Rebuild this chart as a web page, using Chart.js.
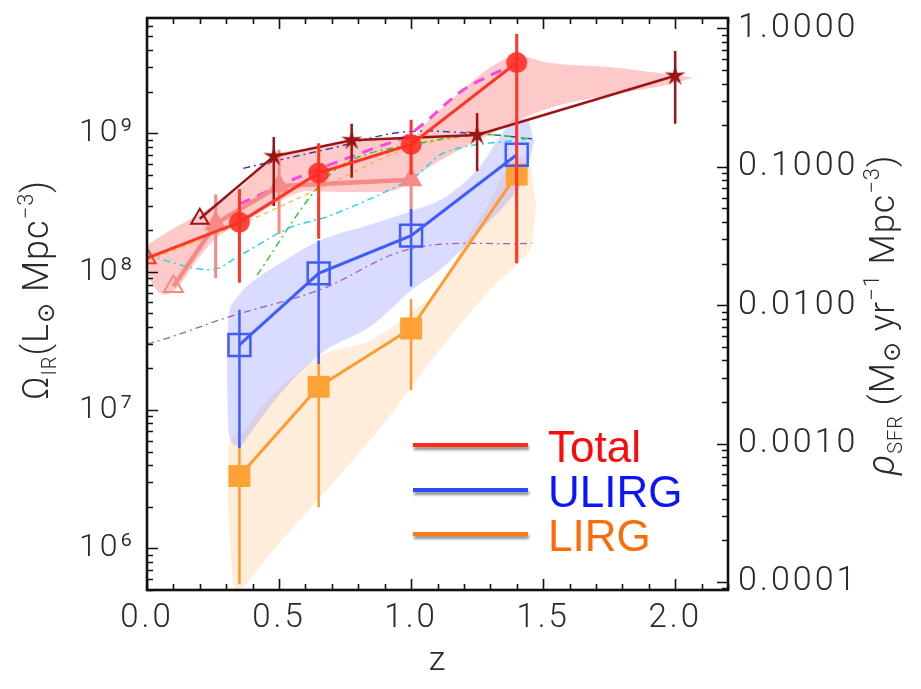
<!DOCTYPE html>
<html><head><meta charset="utf-8">
<script src="https://cdn.jsdelivr.net/npm/chart.js@4.4.1/dist/chart.umd.min.js"></script>
<style>html,body{margin:0;padding:0;background:#fff;overflow:hidden}#wrap{position:relative;width:921px;height:689px}</style>
</head><body><div id="wrap"><canvas id="c"></canvas></div>
<script>
// ---------------- data ----------------
const Z_TICKS = [0, 0.5, 1.0, 1.5, 2.0];
const LIR_TICKS = [1e6, 1e7, 1e8, 1e9];
const SFR_TICKS = [1e-4, 1e-3, 1e-2, 1e-1, 1];
const Z_MIN = 0, Z_MAX = 2.2;
const LIR_MIN = 5e5, LIR_MAX = 6.8e9;
const SFR_PER_LIR = 1.75e-10;

// Total (filled red circles)
const TOTAL_Z  = [0.35, 0.65, 1.0, 1.4];
const TOTAL_V  = [2.27e8, 5.16e8, 8.3e8, 3.24e9];
const TOTAL_LO = [8.3e7, 1.73e8, 5.0e8, 1.15e8];
const TOTAL_HI = [3.95e8, 8.46e8, 1.25e9, 5.2e9];
// local value (open red triangle at z=0)
const LOCAL_Z = [0.0];
const LOCAL_V = [1.25e8];

// ULIRG (open blue squares)
const ULIRG_Z  = [0.35, 0.65, 1.0, 1.4];
const ULIRG_V  = [2.95e7, 9.7e7, 1.82e8, 6.99e8];
const ULIRG_LO = [5.3e6, 2.15e7, 7.8e7, 2.75e8];
const ULIRG_HI = [5.3e7, 1.68e8, 2.83e8, 1.15e9];

// LIRG (filled orange squares)
const LIRG_Z  = [0.35, 0.65, 1.0, 1.4];
const LIRG_V  = [3.33e6, 1.47e7, 3.88e7, 5.02e8];
const LIRG_LO = [5.5e5, 1.98e6, 1.39e7, 1.15e8];
const LIRG_HI = [5.8e6, 2.68e7, 6.3e7, 8.0e8];

// dark red stars (+ open triangle start)
const STAR_OPEN_Z = [0.2];
const STAR_OPEN_V = [2.41e8];
const STAR_Z  = [0.48, 0.775, 1.25, 2.0];
const STAR_V  = [6.8e8, 8.9e8, 9.7e8, 2.6e9];
const STAR_LO = [2.98e8, 4.76e8, 5.3e8, 1.17e9];
const STAR_HI = [9.4e8, 1.17e9, 1.4e9, 3.93e9];

// light red triangles (+ open triangle start)
const TRI_OPEN_Z = [0.1];
const TRI_OPEN_V = [7.8e7];
const TRI_Z  = [0.26, 0.5, 1.0];
const TRI_V  = [2.22e8, 4.15e8, 4.6e8];
const TRI_LO = [9.0e7, 1.87e8, 1.93e8];
const TRI_HI = [3.6e8, 7.6e8, 9.0e8];

// shaded bands (upper / lower edges)
const RED_BAND_UP_Z = [0, 0.087, 0.2, 0.352, 0.477, 0.655, 0.777, 1.004, 1.072, 1.197, 1.3, 1.402, 1.515, 1.765, 1.955, 2.068];
const RED_BAND_UP_V = [1.55e8, 1.98e8, 2.62e8, 4.0e8, 6.8e8, 7.87e8, 9.0e8, 9.4e8, 1.27e9, 2.08e9, 2.99e9, 3.64e9, 3.24e9, 2.99e9, 2.7e9, 2.53e9];
const RED_BAND_LO_Z = [0, 0.03, 0.068, 0.114, 0.174, 0.265, 0.39, 0.504, 0.606, 0.731, 0.856, 0.958, 1.045, 1.136, 1.261, 1.386, 1.515, 1.765, 1.992, 2.068];
const RED_BAND_LO_V = [9.9e7, 7.6e7, 6.8e7, 7.6e7, 1.11e8, 1.76e8, 2.41e8, 3.24e8, 3.82e8, 3.76e8, 3.76e8, 4.0e8, 5.31e8, 6.8e8, 9.0e8, 1.19e9, 1.5e9, 1.91e9, 2.29e9, 2.53e9];

const BLUE_BAND_UP_Z = [0.303, 0.307, 0.326, 0.371, 0.504, 0.655, 0.856, 1.004, 1.136, 1.261, 1.337, 1.394, 1.439, 1.466];
const BLUE_BAND_UP_V = [1.82e7, 4.15e7, 5.96e7, 7.6e7, 1.15e8, 1.68e8, 2.22e8, 2.75e8, 3.52e8, 5.77e8, 9.4e8, 1.27e9, 1.27e9, 8.7e8];
const BLUE_BAND_LO_Z = [0.303, 0.307, 0.322, 0.352, 0.39, 0.504, 0.655, 0.856, 1.004, 1.11, 1.261, 1.375, 1.432, 1.466];
const BLUE_BAND_LO_V = [1.82e7, 8.0e6, 5.8e6, 5.5e6, 6.8e6, 1.31e7, 2.53e7, 4.15e7, 7.4e7, 1.03e8, 1.98e8, 3.35e8, 4.89e8, 8.7e8];

const ORANGE_BAND_UP_Z = [0.307, 0.308, 0.352, 0.428, 0.542, 0.655, 0.856, 1.004, 1.11, 1.197, 1.3, 1.364, 1.413, 1.451, 1.473];
const ORANGE_BAND_UP_V = [2.15e6, 5.3e6, 6.8e6, 1.03e7, 1.68e7, 2.45e7, 3.24e7, 5.14e7, 7.6e7, 1.55e8, 3.24e8, 5.57e8, 6.8e8, 5.77e8, 2.99e8];
const ORANGE_BAND_LO_Z = [0.307, 0.322, 0.337, 0.428, 0.504, 0.655, 0.883, 1.11, 1.3, 1.413, 1.458, 1.473];
const ORANGE_BAND_LO_V = [2.15e6, 6.8e5, 4.9e5, 7.4e5, 1.11e6, 2.33e6, 7.4e6, 2.75e7, 7.4e7, 1.21e8, 1.68e8, 2.99e8];

// thin model curves
const MODEL_MAGENTA_Z = [0.352, 0.606, 0.856, 0.996, 1.197, 1.364];
const MODEL_MAGENTA_V = [3.08e8, 5.1e8, 7.74e8, 9.9e8, 2.05e9, 2.99e9];
const MODEL_NAVY_Z = [0.364, 0.477, 0.693, 0.97, 1.261, 1.458];
const MODEL_NAVY_V = [5.57e8, 6.25e8, 7.74e8, 1.02e9, 9.9e8, 9.1e8];
const MODEL_CYAN_Z = [0, 0.239, 0.352, 0.542, 0.693, 1.004, 1.136, 1.439];
const MODEL_CYAN_V = [1.31e8, 1.03e8, 1.31e8, 2.08e8, 2.53e8, 4.73e8, 7.38e8, 9.1e8];
const MODEL_GREEN_Z = [0.417, 0.644, 0.78, 1.004, 1.261, 1.458];
const MODEL_GREEN_V = [9.44e7, 4.0e8, 6.47e8, 8.28e8, 9.75e8, 9.1e8];
const MODEL_PURPLE_Z = [0, 0.087, 0.314, 0.655, 1.004, 1.458];
const MODEL_PURPLE_V = [2.99e7, 3.35e7, 4.73e7, 7.4e7, 1.47e8, 1.6e8];
const MODEL_ORANGE_Z = [0, 0.352, 0.655, 1.004, 1.261];
const MODEL_ORANGE_V = [1.2e8, 2.2e8, 4.0e8, 8.0e8, 9.7e8];

const LEGEND_LABELS = ['Total', 'ULIRG', 'LIRG'];

// ---------------- helpers ----------------
const pts = (zs, vs) => zs.map((z, i) => ({x: z, y: vs[i]}));
const errPts = (zs, lo, hi) => { const d = []; zs.forEach((z, i) => d.push({x: z, y: lo[i]}, {x: z, y: hi[i]}, {x: z, y: null})); return d; };

function makeStar(color, R, r) {
  const s = Math.ceil(2 * R + 4);
  const c = document.createElement('canvas'); c.width = s; c.height = s;
  const g = c.getContext('2d'); g.fillStyle = color; g.beginPath();
  for (let i = 0; i < 10; i++) {
    const a = -Math.PI / 2 + i * Math.PI / 5, rr = i % 2 ? r : R;
    g.lineTo(s / 2 + rr * Math.cos(a), s / 2 + rr * Math.sin(a));
  }
  g.closePath(); g.fill(); return c;
}
const STAR_IMG = makeStar('#9c1414', 11, 3.6);

const C_RED = '#ff3526', C_DRED = '#9c1414', C_PINK = '#f58a86', C_BLUE = '#3f5cff', C_ORANGE = '#ff9a2e';

const ds = [];
function add(o) { ds.push(o); return ds.length - 1; }
function band(upZ, upV, loZ, loV, color, order) {
  const lo = add({data: pts(loZ, loV), borderWidth: 0, pointRadius: 0, fill: false, cubicInterpolationMode: 'monotone', order});
  add({data: pts(upZ, upV), borderWidth: 0, pointRadius: 0, backgroundColor: color, fill: {target: lo, above: color, below: color}, cubicInterpolationMode: 'monotone', order});
}
function model(zs, vs, color, width, dash, order) {
  add({data: pts(zs, vs), borderColor: color, borderWidth: width, borderDash: dash, pointRadius: 0, fill: false, tension: 0.35, order});
}
function err(zs, lo, hi, color, width, order) {
  add({data: errPts(zs, lo, hi), borderColor: color, borderWidth: width, pointRadius: 0, fill: false, spanGaps: false, order});
}

band(ORANGE_BAND_UP_Z, ORANGE_BAND_UP_V, ORANGE_BAND_LO_Z, ORANGE_BAND_LO_V, 'rgba(255,186,120,0.26)', 100);
band(BLUE_BAND_UP_Z, BLUE_BAND_UP_V, BLUE_BAND_LO_Z, BLUE_BAND_LO_V, 'rgba(120,130,255,0.28)', 95);
band(RED_BAND_UP_Z, RED_BAND_UP_V, RED_BAND_LO_Z, RED_BAND_LO_V, 'rgba(250,105,105,0.36)', 90);

model(MODEL_PURPLE_Z, MODEL_PURPLE_V, '#a060c0', 1.3, [7, 4, 2, 4], 70);
model(MODEL_CYAN_Z, MODEL_CYAN_V, '#20d8e8', 1.5, [7, 4, 2, 4], 70);
model(MODEL_GREEN_Z, MODEL_GREEN_V, '#22cc22', 1.4, [7, 4, 2, 4], 70);
model(MODEL_NAVY_Z, MODEL_NAVY_V, '#3040a0', 1.4, [7, 4, 2, 4], 70);
model(MODEL_ORANGE_Z, MODEL_ORANGE_V, '#ffb030', 1.2, [5, 4], 70);
model(MODEL_MAGENTA_Z, MODEL_MAGENTA_V, '#ff44e0', 3, [11, 8], 65);

// light red triangles
err(TRI_Z, TRI_LO, TRI_HI, C_PINK, 3, 50);
add({data: pts(TRI_OPEN_Z.concat(TRI_Z), TRI_OPEN_V.concat(TRI_V)), borderColor: C_PINK, borderWidth: 4.5,
  pointStyle: 'triangle', pointRadius: 11, pointBackgroundColor: ['rgba(255,255,255,0)', C_PINK, C_PINK, C_PINK],
  pointBorderColor: C_PINK, pointBorderWidth: 2, fill: false, order: 48});

// dark red stars
err(STAR_Z, STAR_LO, STAR_HI, C_DRED, 2.5, 45);
add({data: pts(STAR_OPEN_Z.concat(STAR_Z), STAR_OPEN_V.concat(STAR_V)), borderColor: C_DRED, borderWidth: 2.5,
  pointStyle: ['triangle', STAR_IMG, STAR_IMG, STAR_IMG, STAR_IMG], pointRadius: 10, pointBackgroundColor: 'rgba(255,255,255,0)',
  pointBorderColor: C_DRED, pointBorderWidth: 2, fill: false, order: 44});

// LIRG
err(LIRG_Z, LIRG_LO, LIRG_HI, C_ORANGE, 2.5, 40);
add({data: pts(LIRG_Z, LIRG_V), borderColor: C_ORANGE, borderWidth: 3, pointStyle: 'rect', pointRadius: 15.5,
  pointBackgroundColor: '#ffa236', pointBorderColor: '#ffa236', pointBorderWidth: 0, fill: false, order: 38});

// ULIRG
err(ULIRG_Z, ULIRG_LO, ULIRG_HI, C_BLUE, 2.5, 36);
add({data: pts(ULIRG_Z, ULIRG_V), borderColor: C_BLUE, borderWidth: 3, pointStyle: 'rect', pointRadius: 15.5,
  pointBackgroundColor: 'rgba(255,255,255,0)', pointBorderColor: C_BLUE, pointBorderWidth: 2.5, fill: false, order: 34});

// Total
err(TOTAL_Z, TOTAL_LO, TOTAL_HI, C_RED, 3, 32);
add({data: pts(LOCAL_Z.concat(TOTAL_Z), LOCAL_V.concat(TOTAL_V)), borderColor: C_RED, borderWidth: 3,
  pointStyle: ['triangle', 'circle', 'circle', 'circle', 'circle'], pointRadius: [10, 10.5, 10.5, 10.5, 10.5],
  pointBackgroundColor: ['rgba(255,255,255,0)', 'rgba(255,45,35,0.88)', 'rgba(255,45,35,0.88)', 'rgba(255,45,35,0.88)', 'rgba(255,45,35,0.88)'],
  pointBorderColor: ['#ff3526', 'rgba(255,45,35,0)', 'rgba(255,45,35,0)', 'rgba(255,45,35,0)', 'rgba(255,45,35,0)'], pointBorderWidth: 2, fill: false, order: 30});

// ---------------- plugins ----------------
const TICK_FONT = 'Roboto';
const SUP = {'0':'⁰','1':'¹','2':'²','3':'³','4':'⁴','5':'⁵','6':'⁶','7':'⁷','8':'⁸','9':'⁹','-':'⁻'};

function drawRich(ctx, parts, cx, cy, rot) {
  ctx.save(); ctx.translate(cx, cy); ctx.rotate(rot); ctx.fillStyle = '#2a2a2a'; ctx.textBaseline = 'alphabetic';
  let total = 0;
  parts.forEach(p => { ctx.font = (p.st || '') + ' ' + (p.w || 300) + ' ' + p.s + 'px ' + (p.f || TICK_FONT); p.wd = ctx.measureText(p.t).width; total += p.wd; });
  let x = -total / 2;
  parts.forEach(p => { ctx.font = (p.st || '') + ' ' + (p.w || 300) + ' ' + p.s + 'px ' + (p.f || TICK_FONT); ctx.fillText(p.t, x, p.dy || 0); x += p.wd; });
  ctx.restore();
}

const framePlugin = {
  id: 'frame',
  beforeDraw(chart) { chart.ctx.letterSpacing = '3px'; },
  afterDraw(chart) {
    const {ctx, chartArea: a, scales} = chart;
    ctx.letterSpacing = '0px';
    const x = scales.x, y = scales.y, y2 = scales.y2;
    ctx.save();
    ctx.strokeStyle = '#111'; ctx.lineWidth = 1.6; ctx.beginPath();
    for (let i = 0; i <= Math.round(Z_MAX * 10); i++) {
      const v = i / 10, px = Math.round(x.getPixelForValue(v)) + 0.5, L = (i % 5 === 0) ? 11 : 6;
      ctx.moveTo(px, a.bottom); ctx.lineTo(px, a.bottom - L);
      ctx.moveTo(px, a.top); ctx.lineTo(px, a.top + L);
    }
    const logTicks = (sc, side) => {
      const e0 = Math.floor(Math.log10(sc.min)), e1 = Math.ceil(Math.log10(sc.max));
      for (let e = e0; e <= e1; e++) for (let m = 1; m <= 9; m++) {
        const v = m * Math.pow(10, e); if (v < sc.min || v > sc.max) continue;
        const py = Math.round(sc.getPixelForValue(v)) + 0.5, L = m === 1 ? 11 : 6;
        if (side === 'l') { ctx.moveTo(a.left, py); ctx.lineTo(a.left + L, py); }
        else { ctx.moveTo(a.right, py); ctx.lineTo(a.right - L, py); }
      }
    };
    logTicks(y, 'l'); logTicks(y2, 'r');
    ctx.stroke();
    ctx.lineWidth = 2.6; ctx.strokeRect(a.left, a.top, a.right - a.left, a.bottom - a.top);
    ctx.restore();

    // axis titles
    ctx.letterSpacing = '1px';
    drawRich(ctx, [{t: 'z', s: 34}], (a.left + a.right) / 2, 670, 0);
    drawRich(ctx, [{t: 'Ω', s: 36}, {t: 'IR', s: 20, dy: 8}, {t: '(L', s: 36}, {t: '⊙', s: 24, dy: 6, f: 'DejaVu Sans', w: 400}, {t: ' Mpc', s: 36}, {t: '−3', s: 22, dy: -15}, {t: ')', s: 36}], 48, 290, -Math.PI / 2);
    drawRich(ctx, [{t: 'ρ', s: 38, st: 'italic'}, {t: 'SFR', s: 20, dy: 8}, {t: ' (M', s: 35}, {t: '⊙', s: 24, dy: 6, f: 'DejaVu Sans', w: 400}, {t: ' yr', s: 35}, {t: '−1', s: 22, dy: -15}, {t: ' Mpc', s: 35}, {t: '−3', s: 22, dy: -15}, {t: ')', s: 35}], 894, 315, -Math.PI / 2);
    ctx.letterSpacing = '0px';

    // legend
    const LEG_COLORS = ['#ff2a1a', '#2a4bff', '#ff7a10'];
    const LEG_TEXT = ['#ff0a0a', '#0a14ff', '#ff6a0a'];
    const LY = [445, 490, 534];
    LEGEND_LABELS.forEach((lab, i) => {
      ctx.save();
      ctx.shadowColor = 'rgba(0,0,0,0.45)'; ctx.shadowBlur = 3; ctx.shadowOffsetX = 1; ctx.shadowOffsetY = 3;
      ctx.strokeStyle = LEG_COLORS[i]; ctx.lineWidth = 4; ctx.beginPath(); ctx.moveTo(413, LY[i]); ctx.lineTo(528, LY[i]); ctx.stroke();
      ctx.restore();
      ctx.save(); ctx.fillStyle = LEG_TEXT[i]; ctx.font = '400 44px "Liberation Sans", Arial, sans-serif'; ctx.textBaseline = 'alphabetic';
      ctx.fillText(lab, 548, LY[i] + 17); ctx.restore();
    });
  }
};

const noPad = s => { s.paddingTop = 0; s.paddingBottom = 0; s.paddingLeft = 0; s.paddingRight = 0; };
const K = SFR_PER_LIR;
new Chart(document.getElementById('c'), {
  type: 'line',
  data: {datasets: ds},
  options: {
    responsive: true, maintainAspectRatio: false, animation: false, devicePixelRatio: 1,
    layout: {padding: {top: 10, left: 0, right: 0, bottom: 0}},
    plugins: {legend: {display: false}, tooltip: {enabled: false}},
    elements: {line: {tension: 0}},
    scales: {
      x: {type: 'linear', min: Z_MIN, max: Z_MAX, position: 'bottom',
        grid: {display: false, drawTicks: false}, border: {display: false},
        afterBuildTicks: s => { s.ticks = Z_TICKS.map(v => ({value: v})); },
        afterFit: s => { s.height = 99; noPad(s); },
        ticks: {autoSkip: false, maxRotation: 0, padding: 9, color: '#2a2a2a', font: {family: TICK_FONT, size: 33, weight: 300}, callback: v => v.toFixed(1)}},
      y: {type: 'logarithmic', min: LIR_MIN, max: LIR_MAX, position: 'left',
        grid: {display: false, drawTicks: false}, border: {display: false},
        afterBuildTicks: s => { s.ticks = LIR_TICKS.map(v => ({value: v})); },
        afterFit: s => { s.width = 147; noPad(s); },
        ticks: {autoSkip: false, padding: 12, color: '#2a2a2a', font: {family: TICK_FONT, size: 32, weight: 300},
          callback: v => '10' + String(Math.round(Math.log10(v))).split('').map(c => SUP[c]).join('')}},
      y2: {type: 'logarithmic', min: LIR_MIN * K, max: LIR_MAX * K, position: 'right',
        grid: {display: false, drawTicks: false}, border: {display: false},
        afterBuildTicks: s => { s.ticks = SFR_TICKS.map(v => ({value: v})); },
        afterFit: s => { s.width = 921 - 728; noPad(s); },
        ticks: {autoSkip: false, padding: 10, color: '#2a2a2a', font: {family: TICK_FONT, size: 34, weight: 300}, callback: v => v.toFixed(4)}}
    }
  },
  plugins: [framePlugin]
});
</script></body></html>
